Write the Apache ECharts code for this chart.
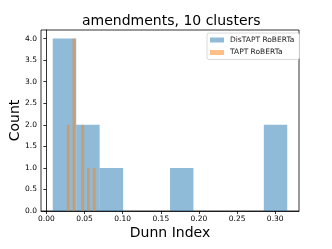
<!DOCTYPE html>
<html>
<head>
<meta charset="utf-8">
<script src="https://cdn.jsdelivr.net/npm/echarts@6/dist/echarts.min.js"></script>
<style>html,body{margin:0;padding:0;background:#fff}#c{width:332px;height:249px}</style>
</head>
<body>
<div id="c"></div>
<script>
// DisTAPT RoBERTa histogram bins
const distaptStarts = [0.0083, 0.0391, 0.0698, 0.1621, 0.2851];
const distaptEnds   = [0.0391, 0.0698, 0.1006, 0.1928, 0.3158];
const distaptCounts = [4, 2, 1, 1, 2];
// TAPT RoBERTa histogram bins
const taptStarts = [0.0267, 0.0343, 0.0456, 0.0532, 0.0607];
const taptEnds   = [0.0305, 0.0380, 0.0494, 0.0569, 0.0645];
const taptCounts = [2, 4, 2, 1, 1];
// tick labels
const xTicks = [0.00, 0.05, 0.10, 0.15, 0.20, 0.25, 0.30];
const yTicks = [0.0, 0.5, 1.0, 1.5, 2.0, 2.5, 3.0, 3.5, 4.0];

const FONT = 'DejaVu Sans';
function bins(s, e, c) { return s.map((v, i) => [v, e[i], c[i]]); }
function renderItem(params, api) {
  const p0 = api.coord([api.value(0), api.value(2)]);
  const p1 = api.coord([api.value(1), 0]);
  return {
    type: 'rect',
    shape: { x: p0[0], y: p0[1], width: p1[0] - p0[0], height: p1[1] - p0[1] },
    style: { fill: api.visual('color') }
  };
}
const chart = echarts.init(document.getElementById('c'), null, { renderer: 'canvas' });
chart.setOption({
  animation: false,
  backgroundColor: '#fff',
  title: {
    text: 'amendments, 10 clusters',
    left: 77, top: 9,
    textStyle: { fontFamily: FONT, fontSize: 14, fontWeight: 'normal', color: '#000' }
  },
  legend: {
    orient: 'vertical',
    left: 207, top: 33,
    padding: [3, 5, 3, 3],
    itemWidth: 14, itemHeight: 5, itemGap: 4.5,
    backgroundColor: '#fff',
    borderColor: '#d0d0d0', borderWidth: 0.8, borderRadius: 2,
    icon: 'rect',
    textStyle: { fontFamily: FONT, fontSize: 7.5, color: '#222', padding: [0, 0, 0, 1] },
    data: ['DisTAPT RoBERTa', 'TAPT RoBERTa']
  },
  grid: {
    left: 41, top: 30, right: 33, bottom: 38,
    outerBoundsMode: 'none', containLabel: false,
    show: true, borderColor: '#000', borderWidth: 0.8, backgroundColor: 'transparent'
  },
  xAxis: {
    type: 'value',
    min: -0.0071, max: 0.3312,
    name: 'Dunn Index', nameLocation: 'middle', nameGap: 15, nameMoveOverlap: false,
    nameTextStyle: { fontFamily: FONT, fontSize: 14, color: '#000' },
    axisLine: { show: true, onZero: false, lineStyle: { color: '#000', width: 0.8 } },
    axisTick: { show: true, length: 3, lineStyle: { color: '#000', width: 0.8 }, customValues: xTicks },
    axisLabel: { fontFamily: FONT, fontSize: 7.5, color: '#000', margin: 4,
      customValues: xTicks, formatter: v => v.toFixed(2) },
    splitLine: { show: false }
  },
  yAxis: {
    type: 'value',
    min: 0, max: 4.2,
    name: 'Count', nameLocation: 'middle', nameGap: 19, nameMoveOverlap: false,
    nameTextStyle: { fontFamily: FONT, fontSize: 14, color: '#000' },
    axisLine: { show: true, lineStyle: { color: '#000', width: 0.8 } },
    axisTick: { show: true, length: 3, lineStyle: { color: '#000', width: 0.8 }, customValues: yTicks },
    axisLabel: { fontFamily: FONT, fontSize: 7.5, color: '#000', margin: 4,
      customValues: yTicks, formatter: v => v.toFixed(1) },
    splitLine: { show: false }
  },
  series: [
    {
      name: 'DisTAPT RoBERTa', type: 'custom', renderItem,
      itemStyle: { color: 'rgba(31,119,180,0.5)' },
      encode: { x: [0, 1], y: 2 },
      data: bins(distaptStarts, distaptEnds, distaptCounts)
    },
    {
      name: 'TAPT RoBERTa', type: 'custom', renderItem,
      itemStyle: { color: 'rgba(255,127,14,0.5)' },
      encode: { x: [0, 1], y: 2 },
      data: bins(taptStarts, taptEnds, taptCounts)
    }
  ]
});
</script>
</body>
</html>
